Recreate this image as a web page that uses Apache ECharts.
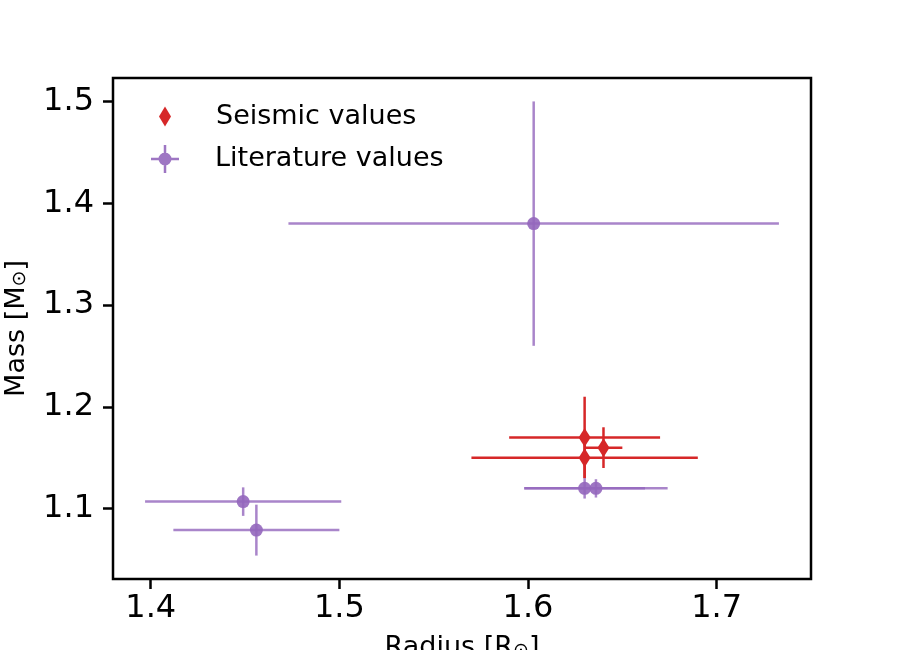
<!DOCTYPE html>
<html>
<head>
<meta charset="utf-8">
<script src="https://cdn.jsdelivr.net/npm/echarts@6/dist/echarts.min.js"></script>
<style>html,body{margin:0;padding:0;background:#fff}#c{width:900px;height:650px}</style>
</head>
<body>
<div id="c"></div>
<script>
// Seismic values
const seisRadius    = [1.630, 1.630, 1.640];
const seisMass      = [1.170, 1.150, 1.160];
const seisRadiusErr = [0.040, 0.060, 0.010];
const seisMassErr   = [0.040, 0.020, 0.020];
// Literature values
const litRadius    = [1.603, 1.449, 1.456, 1.630, 1.636];
const litMass      = [1.380, 1.107, 1.079, 1.120, 1.120];
const litRadiusErr = [0.130, 0.052, 0.044, 0.032, 0.038];
const litMassErr   = [0.120, 0.014, 0.025, 0.010, 0.009];
// Ticks
const xTicks = [1.4, 1.5, 1.6, 1.7];
const yTicks = [1.1, 1.2, 1.3, 1.4, 1.5];

const FONT = 'DejaVu Sans';
const RED = '#d62728';
const PURPLE = '#9467bd';
const PURPLE_ERR = 'rgba(148,103,189,0.8)';

function rows(x, y, ex, ey) { return x.map((v, i) => [v, y[i], ex[i], ey[i]]); }
function errRender(color) {
  return function (params, api) {
    const x = api.value(0), y = api.value(1), ex = api.value(2), ey = api.value(3);
    const l = api.coord([x - ex, y]), r = api.coord([x + ex, y]);
    const t = api.coord([x, y + ey]), b = api.coord([x, y - ey]);
    const st = { stroke: color, lineWidth: 2.5 };
    return { type: 'group', children: [
      { type: 'line', shape: { x1: l[0], y1: l[1], x2: r[0], y2: r[1] }, style: st },
      { type: 'line', shape: { x1: t[0], y1: t[1], x2: b[0], y2: b[1] }, style: st }
    ]};
  };
}

const diamondIcon = 'path://M6,0 L12,10 L6,20 L0,10 Z';
const litIcon = 'path://M0,12.75 H28 V15.25 H0 Z M12.75,0 H15.25 V28 H12.75 Z M7.5,14 A6.5,6.5 0 1,1 20.5,14 A6.5,6.5 0 1,1 7.5,14 Z';

const chart = echarts.init(document.getElementById('c'));
chart.setOption({
  animation: false,
  backgroundColor: '#fff',
  textStyle: { fontFamily: FONT },
  grid: { left: 113, right: 89, top: 78, bottom: 71, containLabel: false, outerBoundsMode: 'none',
          show: true, borderColor: '#000', borderWidth: 2.5, backgroundColor: 'transparent' },
  legend: [
    { data: [{ name: 'Seismic values', icon: diamondIcon }], left: 159, top: 103, padding: 0,
      itemWidth: 12, itemHeight: 20, textStyle: { fontFamily: FONT, fontSize: 27, color: '#000', padding: [0, 0, 0, 40] } },
    { data: [{ name: 'Literature values', icon: litIcon }], left: 151, top: 145, padding: 0,
      itemWidth: 28, itemHeight: 28, textStyle: { fontFamily: FONT, fontSize: 27, color: '#000', padding: [0, 0, 0, 31] } }
  ],
  xAxis: {
    type: 'value', min: 1.38, max: 1.75,
    name: 'Radius [R{sub|⊙}]', nameLocation: 'middle', nameGap: 55,
    nameTextStyle: { fontFamily: FONT, fontSize: 27, color: '#000',
      rich: { sub: { fontFamily: FONT, fontSize: 19, color: '#000', verticalAlign: 'bottom' } } },
    axisLine: { show: false },
    axisTick: { show: true, inside: false, length: 10, lineStyle: { color: '#000', width: 2.5 }, customValues: xTicks },
    axisLabel: { fontFamily: FONT, fontSize: 32, color: '#000', margin: 14, customValues: xTicks, formatter: v => v.toFixed(1) },
    splitLine: { show: false }
  },
  yAxis: {
    type: 'value', min: 1.031, max: 1.523,
    name: 'Mass [M{sub|⊙}]', nameLocation: 'middle', nameGap: 83, nameRotate: 90,
    nameTextStyle: { fontFamily: FONT, fontSize: 27, color: '#000',
      rich: { sub: { fontFamily: FONT, fontSize: 19, color: '#000', verticalAlign: 'bottom' } } },
    axisLine: { show: false },
    axisTick: { show: true, inside: false, length: 10, lineStyle: { color: '#000', width: 2.5 }, customValues: yTicks },
    axisLabel: { fontFamily: FONT, fontSize: 32, color: '#000', margin: 19, customValues: yTicks, formatter: v => v.toFixed(1) },
    splitLine: { show: false }
  },
  series: [
    { type: 'custom', name: 'seisErr', renderItem: errRender(RED), data: rows(seisRadius, seisMass, seisRadiusErr, seisMassErr), encode: { x: 0, y: 1 }, z: 2, silent: true },
    { type: 'scatter', name: 'Seismic values', symbol: 'diamond', symbolSize: [12, 19], itemStyle: { color: RED, opacity: 1 },
      data: seisRadius.map((v, i) => [v, seisMass[i]]), z: 3 },
    { type: 'custom', name: 'litErr', renderItem: errRender(PURPLE_ERR), data: rows(litRadius, litMass, litRadiusErr, litMassErr), encode: { x: 0, y: 1 }, z: 4, silent: true },
    { type: 'scatter', name: 'Literature values', symbol: 'circle', symbolSize: 13, itemStyle: { color: PURPLE, opacity: 0.9 },
      data: litRadius.map((v, i) => [v, litMass[i]]), z: 5 }
  ]
});
</script>
</body>
</html>
